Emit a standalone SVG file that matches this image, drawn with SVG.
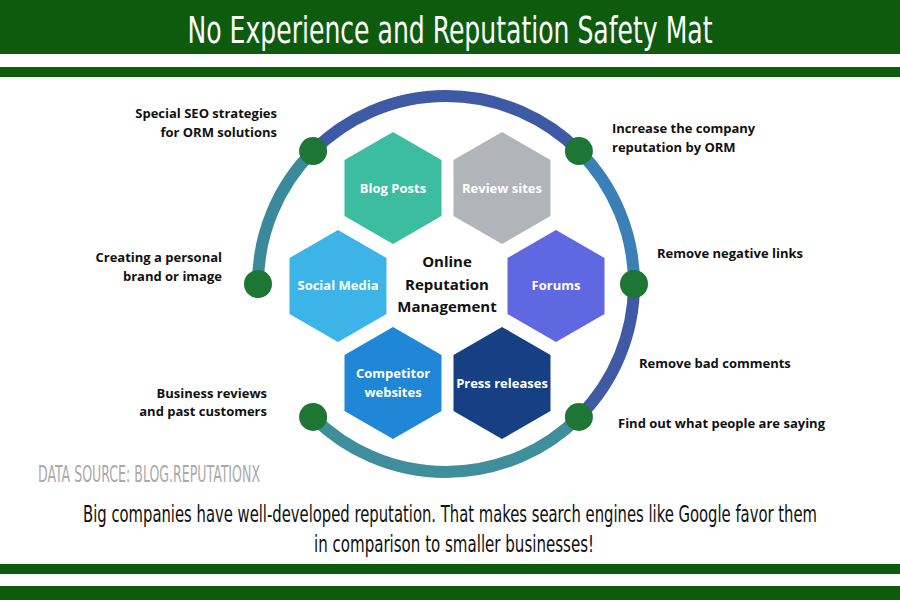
<svg xmlns="http://www.w3.org/2000/svg" width="900" height="600" viewBox="0 0 900 600">
<defs>
<style>
.bar{fill:#0d5c0e}
.cond{font-family:"DejaVu Sans Condensed","Liberation Sans Narrow","Liberation Sans",sans-serif}
.title{fill:#ffffff;font-size:27px}
.lbl{font-family:"Open Sans","Noto Sans",sans-serif;font-weight:700;font-size:13px;fill:#111111}
.hexlbl{font-family:"Open Sans","Noto Sans",sans-serif;font-weight:700;font-size:13px;fill:#ffffff;text-anchor:middle}
.center{font-family:"Open Sans","Noto Sans",sans-serif;font-weight:700;font-size:15px;fill:#111111;text-anchor:middle}
.ring{fill:none;stroke-width:12}
.dot{fill:#1d7634}
</style>
<polygon id="hex" points="0,-56 48.5,-28 48.5,28 0,56 -48.5,28 -48.5,-28"/>
</defs>
<rect width="900" height="600" fill="#ffffff"/>
<g id="header">
<rect class="bar" x="0" y="0" width="900" height="54"/>
<rect class="bar" x="0" y="67" width="900" height="10"/>
<text class="cond title" transform="translate(450,43) scale(1,1.41)" x="0" y="0" text-anchor="middle" textLength="525" lengthAdjust="spacingAndGlyphs">No Experience and Reputation Safety Mat</text>
</g>
<g id="connectors">
<path class="ring" stroke="#3f5aa5" d="M313.1,151.1 A188,188 0 0 1 578.9,151.1"/>
<path class="ring" stroke="#3a7fb6" d="M578.9,151.1 A188,188 0 0 1 634,284"/>
<path class="ring" stroke="#3f59a2" d="M634,284 A188,188 0 0 1 578.9,416.9"/>
<path class="ring" stroke="#3f8e9c" d="M578.9,416.9 A188,188 0 0 1 313.1,416.9"/>
<path class="ring" stroke="#3b8a9c" d="M258,284 A188,188 0 0 1 313.1,151.1"/>
</g>
<g id="dots">
<circle class="dot" cx="313.1" cy="151.1" r="14"/>
<circle class="dot" cx="578.9" cy="151.1" r="14"/>
<circle class="dot" cx="258" cy="284" r="14"/>
<circle class="dot" cx="634" cy="284" r="14"/>
<circle class="dot" cx="313.1" cy="416.9" r="14"/>
<circle class="dot" cx="578.9" cy="416.9" r="14"/>
</g>
<g id="hex-blog-posts">
<use href="#hex" transform="translate(393,188)" fill="#3dbd9f"/>
<text class="hexlbl" x="393" y="192.5">Blog Posts</text>
</g>
<g id="hex-review-sites">
<use href="#hex" transform="translate(502,188)" fill="#b1b4b9"/>
<text class="hexlbl" x="502" y="192.5">Review sites</text>
</g>
<g id="hex-social-media">
<use href="#hex" transform="translate(338,286)" fill="#3db4e8"/>
<text class="hexlbl" x="338" y="290">Social Media</text>
</g>
<g id="hex-forums">
<use href="#hex" transform="translate(556,286)" fill="#5f68e0"/>
<text class="hexlbl" x="556" y="290">Forums</text>
</g>
<g id="hex-competitor-websites">
<use href="#hex" transform="translate(393,383)" fill="#1f87d6"/>
<text class="hexlbl" x="393" y="377.5">Competitor</text>
<text class="hexlbl" x="393" y="396.5">websites</text>
</g>
<g id="hex-press-releases">
<use href="#hex" transform="translate(502,383)" fill="#163f84"/>
<text class="hexlbl" x="502" y="387.5">Press releases</text>
</g>
<g id="center-label">
<text class="center" x="447" y="267">Online</text>
<text class="center" x="447" y="289.5">Reputation</text>
<text class="center" x="447" y="312">Management</text>
</g>
<g id="label-seo">
<text class="lbl" x="277" y="117.5" text-anchor="end">Special SEO strategies</text>
<text class="lbl" x="277" y="136.5" text-anchor="end">for ORM solutions</text>
</g>
<g id="label-brand">
<text class="lbl" x="222" y="261.5" text-anchor="end">Creating a personal</text>
<text class="lbl" x="222" y="280.5" text-anchor="end">brand or image</text>
</g>
<g id="label-business">
<text class="lbl" x="267" y="397.5" text-anchor="end">Business reviews</text>
<text class="lbl" x="267" y="416" text-anchor="end">and past customers</text>
</g>
<g id="label-increase">
<text class="lbl" x="612" y="132.5">Increase the company</text>
<text class="lbl" x="612" y="151.5">reputation by ORM</text>
</g>
<g id="label-negative">
<text class="lbl" x="657" y="257.5">Remove negative links</text>
</g>
<g id="label-bad">
<text class="lbl" x="639" y="367.5">Remove bad comments</text>
</g>
<g id="label-find">
<text class="lbl" x="618" y="427.5">Find out what people are saying</text>
</g>
<g id="footer">
<text class="cond" transform="translate(38,482) scale(1,1.8)" x="0" y="0" font-size="12.8" fill="#aaaaaa" textLength="222" lengthAdjust="spacingAndGlyphs">DATA SOURCE: BLOG.REPUTATIONX</text>
<text class="cond" transform="translate(450,522) scale(1,1.41)" x="0" y="0" font-size="16.3" fill="#111111" text-anchor="middle" textLength="734" lengthAdjust="spacingAndGlyphs">Big companies have well-developed reputation. That makes search engines like Google favor them</text>
<text class="cond" transform="translate(454,552) scale(1,1.41)" x="0" y="0" font-size="16.3" fill="#111111" text-anchor="middle" textLength="280" lengthAdjust="spacingAndGlyphs">in comparison to smaller businesses!</text>
<rect class="bar" x="0" y="564" width="900" height="10"/>
<rect class="bar" x="0" y="586" width="900" height="14"/>
</g>
</svg>
